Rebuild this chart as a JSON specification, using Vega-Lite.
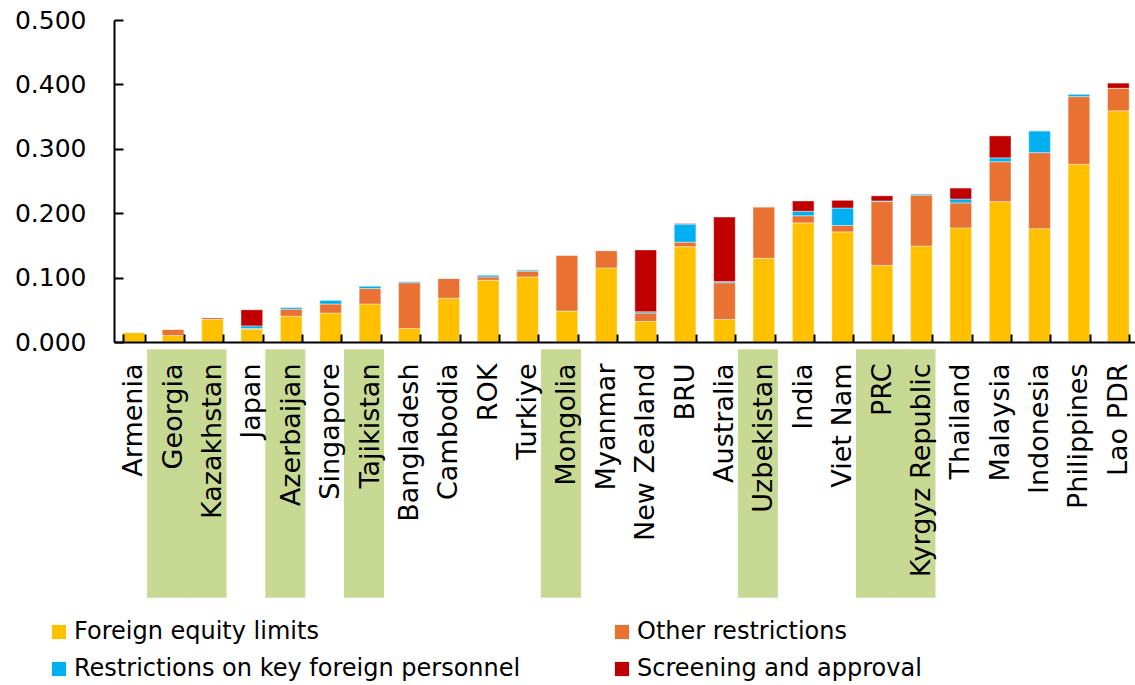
{
  "$schema": "https://vega.github.io/schema/vega-lite/v6.json",
  "autosize": {"type": "none"},
  "padding": {"left": 114, "top": 20, "right": 0, "bottom": 343},
  "width": 1024,
  "height": 322,
  "background": "white",
  "config": {
    "view": {"stroke": null},
    "font": "DejaVu Sans"
  },
  "datasets": {
    "bars": [
      {"country": "Armenia", "equity": 0.015, "other": 0, "personnel": 0, "screening": 0},
      {"country": "Georgia", "equity": 0.010, "other": 0.010, "personnel": 0, "screening": 0},
      {"country": "Kazakhstan", "equity": 0.035, "other": 0.003, "personnel": 0, "screening": 0},
      {"country": "Japan", "equity": 0.020, "other": 0.001, "personnel": 0.004, "screening": 0.025},
      {"country": "Azerbaijan", "equity": 0.040, "other": 0.011, "personnel": 0.003, "screening": 0},
      {"country": "Singapore", "equity": 0.045, "other": 0.014, "personnel": 0.006, "screening": 0},
      {"country": "Tajikistan", "equity": 0.059, "other": 0.024, "personnel": 0.004, "screening": 0},
      {"country": "Bangladesh", "equity": 0.021, "other": 0.071, "personnel": 0.002, "screening": 0},
      {"country": "Cambodia", "equity": 0.068, "other": 0.031, "personnel": 0, "screening": 0},
      {"country": "ROK", "equity": 0.096, "other": 0.005, "personnel": 0.003, "screening": 0},
      {"country": "Turkiye", "equity": 0.101, "other": 0.009, "personnel": 0.002, "screening": 0},
      {"country": "Mongolia", "equity": 0.048, "other": 0.087, "personnel": 0, "screening": 0},
      {"country": "Myanmar", "equity": 0.115, "other": 0.027, "personnel": 0, "screening": 0},
      {"country": "New Zealand", "equity": 0.032, "other": 0.013, "personnel": 0.002, "screening": 0.096},
      {"country": "BRU", "equity": 0.148, "other": 0.007, "personnel": 0.028, "screening": 0.001},
      {"country": "Australia", "equity": 0.035, "other": 0.057, "personnel": 0.002, "screening": 0.100},
      {"country": "Uzbekistan", "equity": 0.130, "other": 0.080, "personnel": 0, "screening": 0},
      {"country": "India", "equity": 0.185, "other": 0.011, "personnel": 0.007, "screening": 0.016},
      {"country": "Viet Nam", "equity": 0.171, "other": 0.010, "personnel": 0.027, "screening": 0.012},
      {"country": "PRC", "equity": 0.119, "other": 0.099, "personnel": 0.001, "screening": 0.008},
      {"country": "Kyrgyz Republic", "equity": 0.149, "other": 0.079, "personnel": 0.002, "screening": 0},
      {"country": "Thailand", "equity": 0.177, "other": 0.039, "personnel": 0.006, "screening": 0.017},
      {"country": "Malaysia", "equity": 0.218, "other": 0.062, "personnel": 0.006, "screening": 0.034},
      {"country": "Indonesia", "equity": 0.176, "other": 0.118, "personnel": 0.034, "screening": 0},
      {"country": "Philippines", "equity": 0.276, "other": 0.105, "personnel": 0.004, "screening": 0},
      {"country": "Lao PDR", "equity": 0.359, "other": 0.035, "personnel": 0, "screening": 0.008}
    ],
    "highlight": [
      {"country": "Georgia"},
      {"country": "Kazakhstan"},
      {"country": "Azerbaijan"},
      {"country": "Tajikistan"},
      {"country": "Mongolia"},
      {"country": "Uzbekistan"},
      {"country": "PRC"},
      {"country": "Kyrgyz Republic"}
    ]
  },
  "layer": [
    {
      "data": {"name": "highlight"},
      "mark": {"type": "rect", "color": "#C8D994", "clip": false},
      "encoding": {
        "x": {"field": "country", "type": "nominal", "bandPosition": -0.7,
              "sort": ["Armenia","Georgia","Kazakhstan","Japan","Azerbaijan","Singapore","Tajikistan","Bangladesh","Cambodia","ROK","Turkiye","Mongolia","Myanmar","New Zealand","BRU","Australia","Uzbekistan","India","Viet Nam","PRC","Kyrgyz Republic","Thailand","Malaysia","Indonesia","Philippines","Lao PDR"]},
        "x2": {"field": "country", "bandPosition": 1.15},
        "y": {"datum": -0.0113, "type": "quantitative"},
        "y2": {"datum": -0.397}
      }
    },
    {
      "data": {"name": "bars"},
      "transform": [
        {"fold": ["equity", "other", "personnel", "screening"], "as": ["measure", "value"]}
      ],
      "mark": {"type": "bar", "stroke": "white", "strokeWidth": 0.6, "strokeOpacity": 0.7},
      "encoding": {
        "x": {
          "field": "country", "type": "nominal",
          "sort": ["Armenia","Georgia","Kazakhstan","Japan","Azerbaijan","Singapore","Tajikistan","Bangladesh","Cambodia","ROK","Turkiye","Mongolia","Myanmar","New Zealand","BRU","Australia","Uzbekistan","India","Viet Nam","PRC","Kyrgyz Republic","Thailand","Malaysia","Indonesia","Philippines","Lao PDR"],
          "scale": {"paddingInner": 0.45, "paddingOuter": 0.225},
          "axis": {
            "title": null,
            "labelAngle": -90,
            "labelFontSize": 27,
            "labelColor": "#000000",
            "labelPadding": 29,
            "labelLimit": 0,
            "domainColor": "#000000",
            "domainWidth": 2,
            "tickColor": "#000000",
            "tickWidth": 2,
            "tickSize": -8,
            "tickBand": "extent",
            "zindex": 1
          }
        },
        "y": {
          "field": "value", "type": "quantitative", "stack": "zero",
          "scale": {"domain": [0, 0.5], "nice": false},
          "axis": {
            "title": null,
            "values": [0, 0.1, 0.2, 0.3, 0.4, 0.5],
            "format": ".3f",
            "grid": false,
            "labelFontSize": 25,
            "labelColor": "#000000",
            "labelPadding": 37,
            "domainColor": "#000000",
            "domainWidth": 2,
            "tickColor": "#000000",
            "tickWidth": 2,
            "tickSize": -9,
            "zindex": 1
          }
        },
        "color": {
          "field": "measure", "type": "nominal",
          "scale": {
            "domain": ["equity", "personnel", "other", "screening"],
            "range": ["#FFC000", "#00B0F0", "#E97132", "#C00000"]
          },
          "legend": {
            "title": null,
            "orient": "none",
            "legendX": -67,
            "legendY": 600,
            "columns": 2,
            "columnPadding": 89,
            "rowPadding": 13,
            "symbolType": "square",
            "symbolSize": 200,
            "symbolStrokeWidth": 0,
            "labelFontSize": 24,
            "labelColor": "#000000",
            "labelOffset": 3,
            "labelLimit": 0,
            "labelExpr": "{'equity': 'Foreign equity limits', 'other': 'Other restrictions', 'personnel': 'Restrictions on key foreign personnel', 'screening': 'Screening and approval'}[datum.label]"
          }
        },
        "order": {"field": "measure", "sort": "ascending"}
      }
    }
  ]
}
